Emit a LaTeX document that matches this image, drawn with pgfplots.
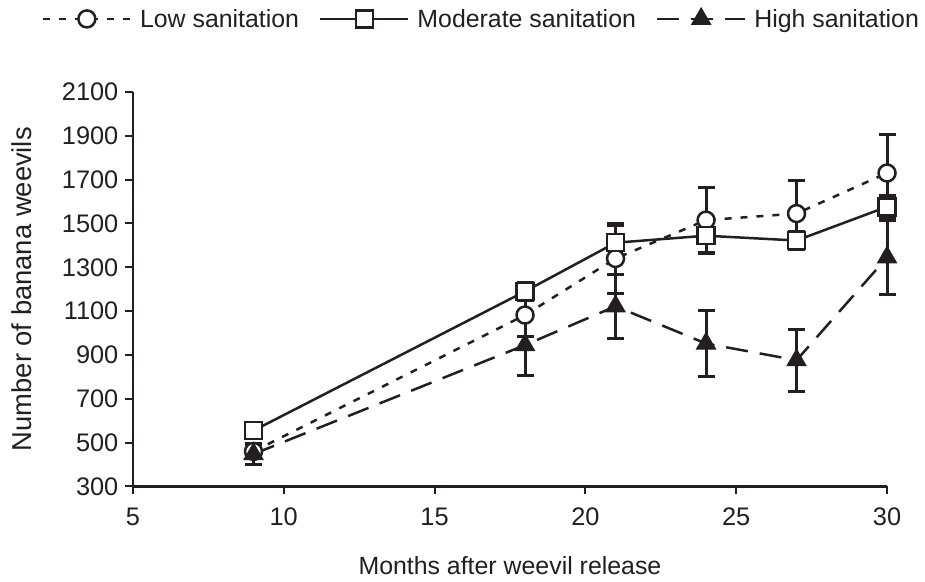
\documentclass[border=0pt]{standalone}
\usepackage{fontspec}
\setmainfont{Liberation Sans}
\usepackage{pgfplots}
\pgfplotsset{compat=1.18}
\definecolor{ink}{HTML}{231F20}

\pgfplotsset{
    weevilerr/.style={forget plot, only marks, mark=none, ink, line width=3bp,
        error bars/.cd, y dir=both, y explicit,
        error bar style={line width=3bp, solid, ink},
        error mark options={rotate=90, mark size=8.5bp, line width=3bp, solid, ink}},
}

\begin{document}
\begin{tikzpicture}
\begin{axis}[
    scale only axis,
    width=755bp, height=395bp,
    xmin=5, xmax=30, ymin=300, ymax=2100,
    xtick={5,10,...,30},
    ytick={300,500,...,2100},
    axis x line*=bottom, axis y line*=left,
    axis line style={-, line width=2.5bp, ink},
    tick align=outside,
    major tick length=8bp,
    tick style={line width=2bp, ink},
    /pgf/number format/assume math mode=true,
    /pgf/number format/1000 sep={},
    tick label style={font=\fontsize{25.5}{30}\selectfont, text=ink},
    xticklabel style={yshift=-10bp},
    yticklabel style={xshift=-3bp},
    xlabel={Months after weevil release},
    ylabel={Number of banana weevils},
    every axis x label/.style={at={(rel axis cs:0.5,0)}, yshift=-79bp, anchor=center,
        font=\fontsize{25}{30}\selectfont, text=ink},
    every axis y label/.style={at={(rel axis cs:0,0.5)}, xshift=-111bp, rotate=90, anchor=center,
        font=\fontsize{27.5}{32}\selectfont, text=ink},
    clip=false,
    legend columns=3,
    legend style={draw=none, fill=none, at={(0.462,1.185)}, anchor=center,
        font=\fontsize{25}{30}\selectfont, text=ink,
        /tikz/every odd column/.append style={column sep=6bp},
        /tikz/every even column/.append style={column sep=18bp}},
    legend image code/.code={%
        \draw[mark repeat=2, mark phase=2, #1] plot coordinates {(0bp,0bp) (44bp,0bp) (88bp,0bp)};},
]

% error bars first, so the markers sit on top of them
\addplot[weevilerr] coordinates {
    (9,460) +- (0,30)
    (18,1082) +- (0,100)
    (21,1340) +- (0,160)
    (24,1515) +- (0,148)
    (27,1545) +- (0,150)
    (30,1730) +- (0,175)
};
\addplot[weevilerr] coordinates {
    (9,555) +- (0,20)
    (18,1190) +- (0,40)
    (21,1412) +- (0,80)
    (24,1444) +- (0,80)
    (27,1422) +- (0,40)
    (30,1576) +- (0,50)
};
\addplot[weevilerr] coordinates {
    (9,448) +- (0,48)
    (18,945) +- (0,140)
    (21,1122) +- (0,145)
    (24,952) +- (0,150)
    (27,876) +- (0,142)
    (30,1345) +- (0,170)
};

% Low sanitation
\addplot[ink, line width=2.5bp, dash pattern=on 7bp off 9bp,
    mark=*, mark size=8.5bp, mark options={solid, draw=ink, fill=white, line width=2.5bp}]
coordinates {(9,460) (18,1082) (21,1340) (24,1515) (27,1545) (30,1730)};
\addlegendentry{Low sanitation}

% Moderate sanitation
\addplot[ink, line width=2.5bp, solid,
    mark=square*, mark size=8.5bp, mark options={solid, draw=ink, fill=white, line width=2.5bp}]
coordinates {(9,555) (18,1190) (21,1412) (24,1444) (27,1422) (30,1576)};
\addlegendentry{Moderate sanitation}

% High sanitation
\addplot[ink, line width=2.5bp, dash pattern=on 22bp off 12bp,
    mark=triangle*, mark size=11bp, mark options={solid, draw=ink, fill=ink, line width=1bp}]
coordinates {(9,448) (18,945) (21,1122) (24,952) (27,876) (30,1345)};
\addlegendentry{High sanitation}

\coordinate (O) at (rel axis cs:0,0);
\coordinate (T) at (rel axis cs:1,1);
\end{axis}
\pgfresetboundingbox
\path ([shift={(-133bp,-95bp)}]O) rectangle ([shift={(38bp,92bp)}]T);
\end{tikzpicture}
\end{document}
